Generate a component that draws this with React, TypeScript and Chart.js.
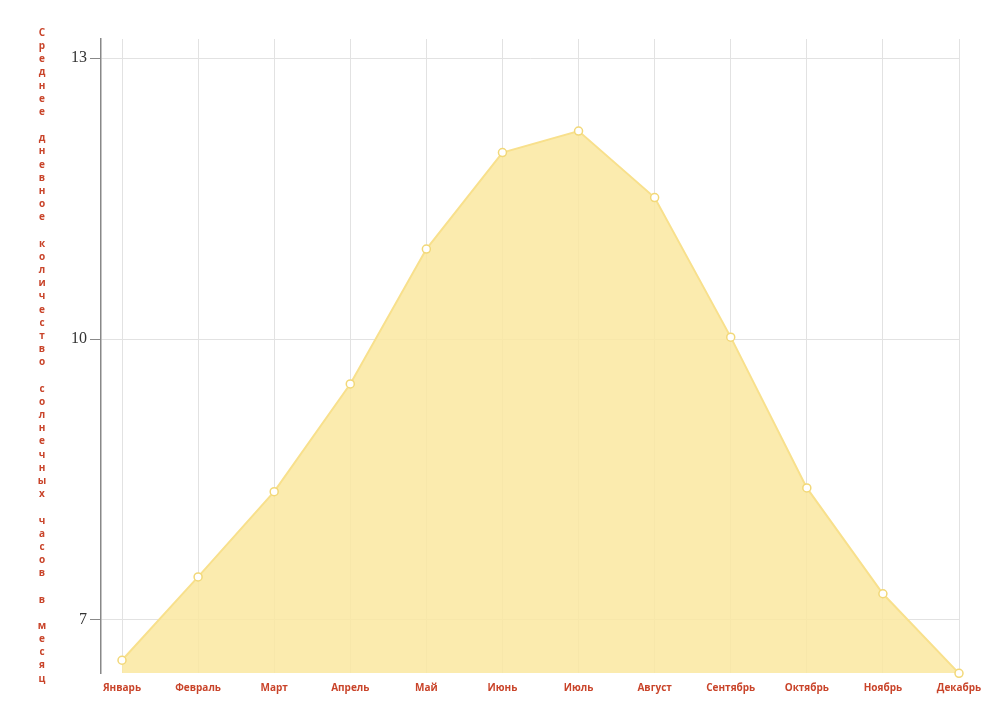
import React, { useEffect, useRef } from "react";
import { Chart, registerables } from "chart.js";

Chart.register(...registerables);

const months = [
  "Январь", "Февраль", "Март", "Апрель", "Май", "Июнь",
  "Июль", "Август", "Сентябрь", "Октябрь", "Ноябрь", "Декабрь",
];
const sunHours = [6.57, 7.46, 8.37, 9.52, 10.96, 11.99, 12.22, 11.51, 10.02, 8.41, 7.28, 6.43];
const yTicks = [7, 10, 13];
const yTitle = "Среднее дневное количество солнечных часов в месяц";

const verticalTitle = {
  id: "verticalTitle",
  afterDraw(chart: any) {
    const ctx = chart.ctx;
    ctx.save();
    ctx.fillStyle = "#c9442a";
    ctx.font = "bold 10px 'Open Sans', sans-serif";
    ctx.textAlign = "center";
    ctx.textBaseline = "middle";
    const chars = yTitle.split("");
    const step = 13.18;
    chars.forEach((c, i) => {
      if (c !== " ") ctx.fillText(c, 42, 33 + i * step);
    });
    ctx.restore();
  },
};

export default function App() {
  const ref = useRef<HTMLCanvasElement>(null);
  useEffect(() => {
    if (!ref.current) return;
    const chart = new Chart(ref.current, {
      type: "line",
      data: {
        datasets: [
          {
            data: sunHours.map((v, i) => ({ x: i, y: v })),
            fill: "start",
            backgroundColor: "rgba(250, 232, 160, 0.85)",
            borderColor: "#f8e08c",
            borderWidth: 2,
            tension: 0,
            pointRadius: 4,
            pointBorderWidth: 1.5,
            pointBackgroundColor: "#ffffff",
            pointBorderColor: "#f2d878",
            clip: false as any,
          },
        ],
      },
      options: {
        animation: false,
        responsive: true,
        maintainAspectRatio: false,
        layout: { padding: { left: 0, right: 41, top: 39, bottom: 0 } },
        plugins: { legend: { display: false }, tooltip: { enabled: false } },
        scales: {
          x: {
            type: "linear",
            min: -0.276,
            max: 11,
            afterBuildTicks: (s: any) => {
              s.ticks = months.map((_, i) => ({ value: i }));
            },
            afterFit: (s: any) => {
              s.height = 37;
            },
            ticks: {
              callback: (v: any) => months[v as number] ?? "",
              color: "#c9442a",
              font: { family: "'Open Sans', sans-serif", size: 10, weight: "bold" },
              padding: 9,
              maxRotation: 0,
              autoSkip: false,
            },
            grid: { color: "#e2e2e2", drawTicks: false, lineWidth: 1 },
            border: { display: false },
          },
          y: {
            min: 6.434,
            max: 13.203,
            afterBuildTicks: (s: any) => {
              s.ticks = yTicks.map((v) => ({ value: v }));
            },
            afterFit: (s: any) => {
              s.width = 101;
            },
            ticks: {
              color: "#333",
              font: { family: "'Liberation Serif', serif", size: 16 },
              padding: 3,
            },
            grid: { color: "#e2e2e2", tickColor: "#888", tickLength: 11, lineWidth: 1 },
            border: { display: true, color: "#888", width: 1.5 },
          },
        },
      },
      plugins: [verticalTitle],
    });
    return () => chart.destroy();
  }, []);
  return (
    <div style={{ position: "absolute", left: 0, top: 0, width: 1000, height: 710, background: "#fff" }}>
      <canvas ref={ref} />
    </div>
  );
}
